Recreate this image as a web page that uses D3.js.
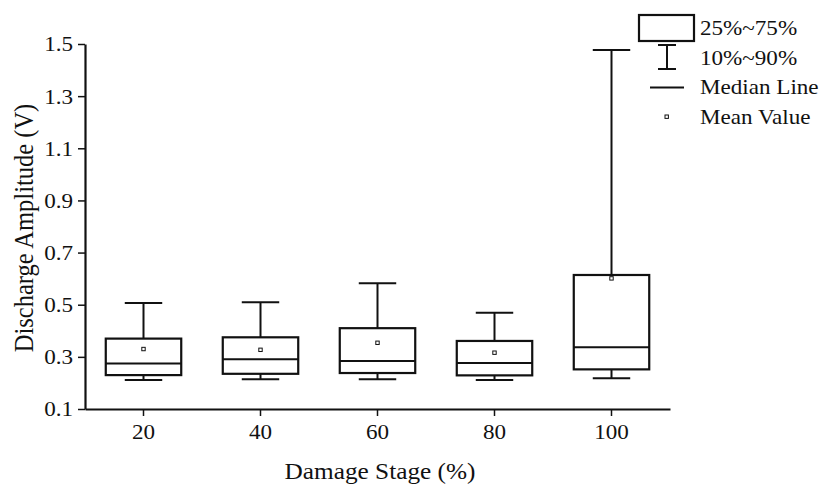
<!DOCTYPE html>
<html>
<head>
<meta charset="utf-8">
<script src="https://cdn.jsdelivr.net/npm/d3@7"></script>
<style>
  html, body { margin: 0; padding: 0; background: #fff; }
  text { font-family: "Liberation Serif", "Times New Roman", serif; fill: #111; }
</style>
</head>
<body>
<svg id="chart" width="825" height="485"></svg>
<script>
// ---- data ----
const categories = ["20", "40", "60", "80", "100"];
const p10    = [0.211, 0.214, 0.214, 0.211, 0.218];
const q1     = [0.230, 0.235, 0.238, 0.229, 0.252];
const median = [0.275, 0.291, 0.284, 0.276, 0.337];
const q3     = [0.370, 0.375, 0.410, 0.361, 0.614];
const p90    = [0.507, 0.509, 0.582, 0.469, 1.477];
const mean   = [0.330, 0.327, 0.354, 0.316, 0.601];
const yTicks = [0.1, 0.3, 0.5, 0.7, 0.9, 1.1, 1.3, 1.5];
const legendLabels = ["25%~75%", "10%~90%", "Median Line", "Mean Value"];
const xTitle = "Damage Stage (%)";
const yTitle = "Discharge Amplitude (V)";

(function () {
const svg = d3.select("#chart");
const mLeft = 85, mRight = 670, mTop = 44, mBottom = 409;
const SX = 1.1; // horizontal text stretch

const x = d3.scaleBand().domain(categories).range([mLeft, mRight]).paddingInner(0).paddingOuter(0);
const y = d3.scaleLinear().domain([0.1, 1.5]).range([mBottom, mTop]);

const boxW = x.bandwidth() * 0.645;
const capW = x.bandwidth() * 0.32;

// axes
const xAxis = d3.axisBottom(x).tickSize(7).tickSizeOuter(0);
const yAxis = d3.axisLeft(y).tickValues(yTicks).tickFormat(d3.format(".1f")).tickSize(7).tickSizeOuter(0);

const gx = svg.append("g").attr("transform", `translate(0,${mBottom})`).call(xAxis);
const gy = svg.append("g").attr("transform", `translate(${mLeft},0)`).call(yAxis);

[gx, gy].forEach(g => {
  g.select(".domain").attr("stroke", "#111").attr("stroke-width", 2.2);
  g.selectAll(".tick line").attr("stroke", "#111").attr("stroke-width", 1.5);
  g.selectAll(".tick text").attr("fill", "#111")
    .style("font-family", '"Liberation Serif", "Times New Roman", serif')
    .style("font-size", "21px");
});
gx.selectAll(".tick text").attr("y", 15).attr("dy", "0.71em").attr("x", 0)
  .attr("transform", `scale(${SX},1)`);
gy.selectAll(".tick text").attr("x", -12 / SX).attr("dy", "0.33em")
  .attr("transform", `scale(${SX},1)`);

// boxes
const data = categories.map((c, i) => ({c, p10: p10[i], q1: q1[i], med: median[i], q3: q3[i], p90: p90[i], mean: mean[i]}));
const g = svg.append("g").attr("stroke", "#111").attr("fill", "none");
data.forEach(d => {
  const cx = x(d.c) + x.bandwidth() / 2;
  g.append("line").attr("x1", cx).attr("x2", cx).attr("y1", y(d.q3)).attr("y2", y(d.p90)).attr("stroke-width", 2);
  g.append("line").attr("x1", cx).attr("x2", cx).attr("y1", y(d.q1)).attr("y2", y(d.p10)).attr("stroke-width", 2);
  g.append("line").attr("x1", cx - capW / 2).attr("x2", cx + capW / 2).attr("y1", y(d.p90)).attr("y2", y(d.p90)).attr("stroke-width", 2);
  g.append("line").attr("x1", cx - capW / 2).attr("x2", cx + capW / 2).attr("y1", y(d.p10)).attr("y2", y(d.p10)).attr("stroke-width", 2);
  g.append("rect").attr("x", cx - boxW / 2).attr("y", y(d.q3)).attr("width", boxW).attr("height", y(d.q1) - y(d.q3))
    .attr("fill", "#fff").attr("stroke-width", 2.2);
  g.append("line").attr("x1", cx - boxW / 2).attr("x2", cx + boxW / 2).attr("y1", y(d.med)).attr("y2", y(d.med)).attr("stroke-width", 2);
  g.append("rect").attr("x", cx - 1.7).attr("y", y(d.mean) - 1.7).attr("width", 3.4).attr("height", 3.4)
    .attr("fill", "#fff").attr("stroke-width", 1);
});

// titles
svg.append("text").attr("transform", `translate(380,479) scale(${SX},1)`)
  .attr("text-anchor", "middle").style("font-size", "23px").text(xTitle);
svg.append("text").attr("transform", `translate(33,228) scale(${SX},1) rotate(-90)`)
  .attr("text-anchor", "middle").style("font-size", "24.5px").text(yTitle);

// legend
const lg = svg.append("g").attr("stroke", "#111").attr("fill", "none");
lg.append("rect").attr("x", 639).attr("y", 15).attr("width", 55).attr("height", 26).attr("stroke-width", 2.2).attr("fill", "#fff");
lg.append("line").attr("x1", 667).attr("x2", 667).attr("y1", 45).attr("y2", 69).attr("stroke-width", 2);
lg.append("line").attr("x1", 658).attr("x2", 676).attr("y1", 45).attr("y2", 45).attr("stroke-width", 2);
lg.append("line").attr("x1", 658).attr("x2", 676).attr("y1", 69).attr("y2", 69).attr("stroke-width", 2);
lg.append("line").attr("x1", 650).attr("x2", 684).attr("y1", 87.5).attr("y2", 87.5).attr("stroke-width", 2);
lg.append("rect").attr("x", 665).attr("y", 115).attr("width", 3.4).attr("height", 3.4).attr("stroke-width", 1).attr("fill", "#fff");

const baselines = [35, 64.5, 94, 123.5];
legendLabels.forEach((t, i) => {
  svg.append("text").attr("transform", `translate(700,${baselines[i]}) scale(${SX},1)`)
    .style("font-size", "21px").text(t);
});
})();
</script>
</body>
</html>
